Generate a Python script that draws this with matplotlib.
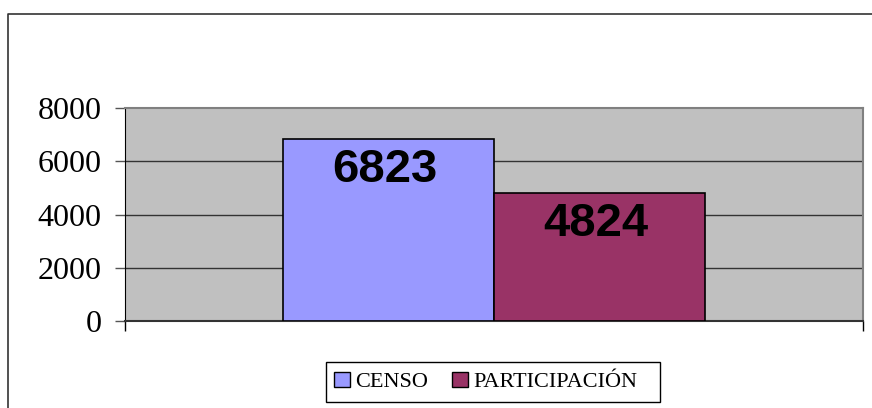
import matplotlib.pyplot as plt
from matplotlib.lines import Line2D
from matplotlib.patches import Patch, Rectangle

# data
series = ["CENSO", "PARTICIPACIÓN"]
values = [6823, 4824]
colors = ["#9999FF", "#993366"]
yticks = [0, 2000, 4000, 6000, 8000]

fig = plt.figure(figsize=(8.72, 4.08), dpi=100)
ax = fig.add_axes([0.1433, 0.2132, 0.8463, 0.5221])
ax.set_facecolor("#C0C0C0")

width = 0.2859
offsets = [-width / 2, width / 2]
for off, val, col in zip(offsets, values, colors):
    ax.bar(off, val, width=width, color=col, edgecolor="black", linewidth=1.2, zorder=3)
    ax.annotate(str(val), xy=(off, val), xytext=(-4, -31), textcoords="offset pixels",
                ha="center", va="center", fontsize=34, fontweight="bold",
                family="Liberation Sans", zorder=4)

ax.set_xlim(-0.5, 0.5)
ax.set_ylim(0, 8000)

# gridlines
for y in yticks[1:-1]:
    ax.axhline(y, color="#333333", linewidth=1.0, zorder=1)

ax.set_yticks(yticks)
ax.set_yticklabels([str(t) for t in yticks], family="Liberation Serif", fontsize=23)
ax.tick_params(axis="y", direction="out", length=7, width=1, pad=10, colors="#555555",
               labelcolor="black")
ax.set_xticks([-0.5, 0.5])
ax.set_xticklabels([])
ax.tick_params(axis="x", direction="out", length=7, width=1, colors="black")

ax.spines["left"].set_color("black")
ax.spines["bottom"].set_color("#333333")
ax.spines["bottom"].set_linewidth(1.5)
ax.spines["top"].set_color("#808080")
ax.spines["top"].set_linewidth(1.5)
ax.spines["right"].set_color("#808080")
ax.spines["right"].set_linewidth(1.5)

# outer frame (left and top edges)
fig.add_artist(Line2D([0.0092, 0.0092, 1.0], [0.0, 0.9657, 0.9657],
                      transform=fig.transFigure, color="#333333", linewidth=1.2))

# legend box
fig.add_artist(Rectangle((326 / 872, 1 - 402 / 408), (660 - 326) / 872, 40 / 408,
                         transform=fig.transFigure, facecolor="white",
                         edgecolor="black", linewidth=1.0))
handles = [Patch(facecolor=c, edgecolor="black", linewidth=1.0) for c in colors]
leg = fig.legend(handles, series, loc="center left", bbox_to_anchor=(334 / 872, 0.0637),
                 ncol=2, frameon=False,
                 prop={"family": "Liberation Serif", "size": 16},
                 handlelength=0.7, handleheight=0.7, handletextpad=0.25,
                 columnspacing=1.1, borderpad=0, borderaxespad=0)
leg.set_zorder(5)

fig.savefig("out.png", dpi=100)
